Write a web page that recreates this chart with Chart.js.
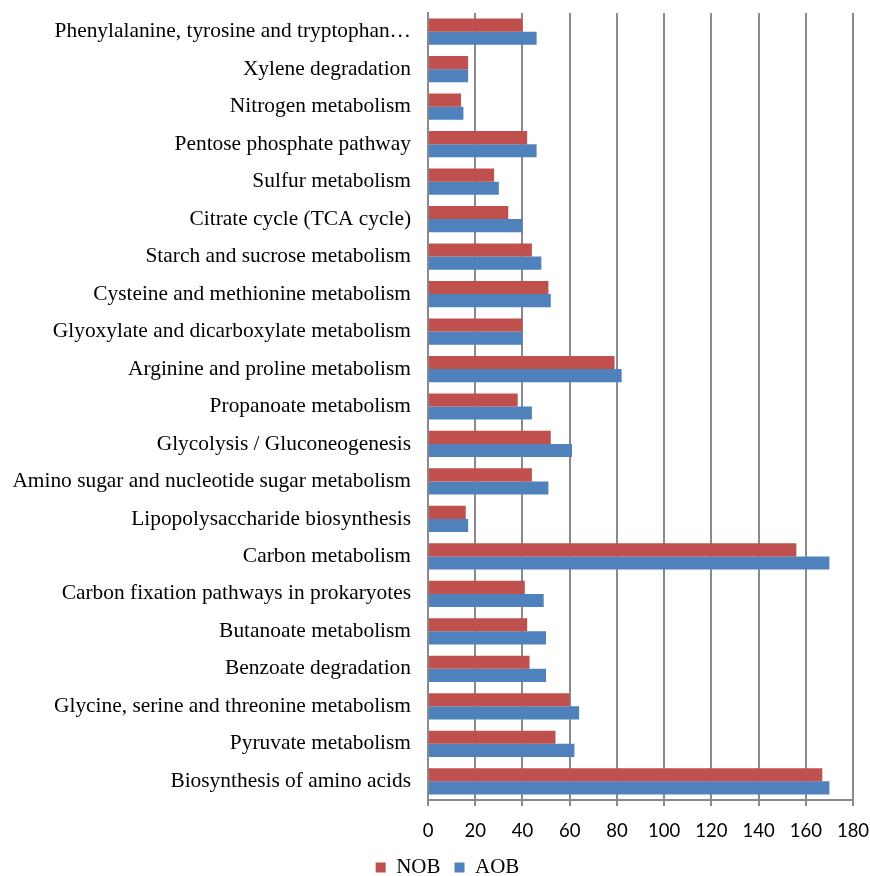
<!DOCTYPE html>
<html>
<head>
<meta charset="utf-8">
<script src="https://cdn.jsdelivr.net/npm/chart.js@4/dist/chart.umd.min.js"></script>
<style>
  html, body { margin: 0; padding: 0; background: #fff; }
  #wrap { width: 870px; height: 876px; position: relative; }
</style>
</head>
<body>
<div id="wrap"><canvas id="c" width="870" height="876"></canvas></div>
<script>
// KEGG pathway categories, listed top to bottom
const pathways = [
  'Phenylalanine, tyrosine and tryptophan\u2026',
  'Xylene degradation',
  'Nitrogen metabolism',
  'Pentose phosphate pathway',
  'Sulfur metabolism',
  'Citrate cycle (TCA cycle)',
  'Starch and sucrose metabolism',
  'Cysteine and methionine metabolism',
  'Glyoxylate and dicarboxylate metabolism',
  'Arginine and proline metabolism',
  'Propanoate metabolism',
  'Glycolysis / Gluconeogenesis',
  'Amino sugar and nucleotide sugar metabolism',
  'Lipopolysaccharide biosynthesis',
  'Carbon metabolism',
  'Carbon fixation pathways in prokaryotes',
  'Butanoate metabolism',
  'Benzoate degradation',
  'Glycine, serine and threonine metabolism',
  'Pyruvate metabolism',
  'Biosynthesis of amino acids'
];

// gene counts per pathway
const nobCounts = [40, 17, 14, 42, 28, 34, 44, 51, 40, 79, 38, 52, 44, 16, 156, 41, 42, 43, 60, 54, 167];
const aobCounts = [46, 17, 15, 46, 30, 40, 48, 52, 40, 82, 44, 61, 51, 17, 170, 49, 50, 50, 64, 62, 170];

const xTicks = [0, 20, 40, 60, 80, 100, 120, 140, 160, 180];

const serif = '"Liberation Serif", "Times New Roman", serif';
const sans = 'Lato, "Open Sans", sans-serif';
const gridGrey = '#8a8a8a';

// nudge the legend a little to the right of the canvas centre
const legendShift = {
  id: 'legendShift',
  afterLayout(chart) {
    const lg = chart.legend;
    if (lg) { lg.left += 21; lg.right += 21; }
  }
};

new Chart(document.getElementById('c'), {
  type: 'bar',
  data: {
    labels: pathways,
    datasets: [
      { label: 'NOB', data: nobCounts, backgroundColor: '#C0504D',
        categoryPercentage: 0.7, barPercentage: 1.0 },
      { label: 'AOB', data: aobCounts, backgroundColor: '#4F81BD',
        categoryPercentage: 0.7, barPercentage: 1.0 }
    ]
  },
  plugins: [legendShift],
  options: {
    indexAxis: 'y',
    responsive: false,
    animation: false,
    devicePixelRatio: 1,
    layout: { padding: { top: 13, right: 17, left: 0, bottom: -12 } },
    plugins: {
      legend: {
        position: 'bottom',
        align: 'center',
        labels: {
          color: '#000',
          font: { family: serif, size: 21 },
          boxWidth: 10,
          boxHeight: 10,
          padding: 14
        }
      },
      tooltip: { enabled: false }
    },
    scales: {
      x: {
        min: 0,
        max: 180,
        afterBuildTicks: (scale) => { scale.ticks = xTicks.map(v => ({ value: v })); },
        grid: {
          color: gridGrey,
          lineWidth: 2,
          drawTicks: true,
          tickLength: 6,
          tickColor: gridGrey
        },
        border: { display: true, color: gridGrey, width: 2 },
        ticks: {
          color: '#000',
          font: { family: sans, size: 18.5 },
          padding: 14,
          maxRotation: 0
        },
        afterFit: (scale) => {
          scale.height = 43;
          scale.paddingLeft = 0;
          scale.paddingRight = 0;
        }
      },
      y: {
        grid: { display: false, drawTicks: false },
        border: { display: true, color: gridGrey, width: 2 },
        ticks: {
          color: '#000',
          font: { family: serif, size: 21.4 },
          padding: 17,
          autoSkip: false
        },
        afterFit: (scale) => {
          scale.width = 428;
          scale.paddingTop = 0;
          scale.paddingBottom = 0;
        }
      }
    }
  }
});
</script>
</body>
</html>
